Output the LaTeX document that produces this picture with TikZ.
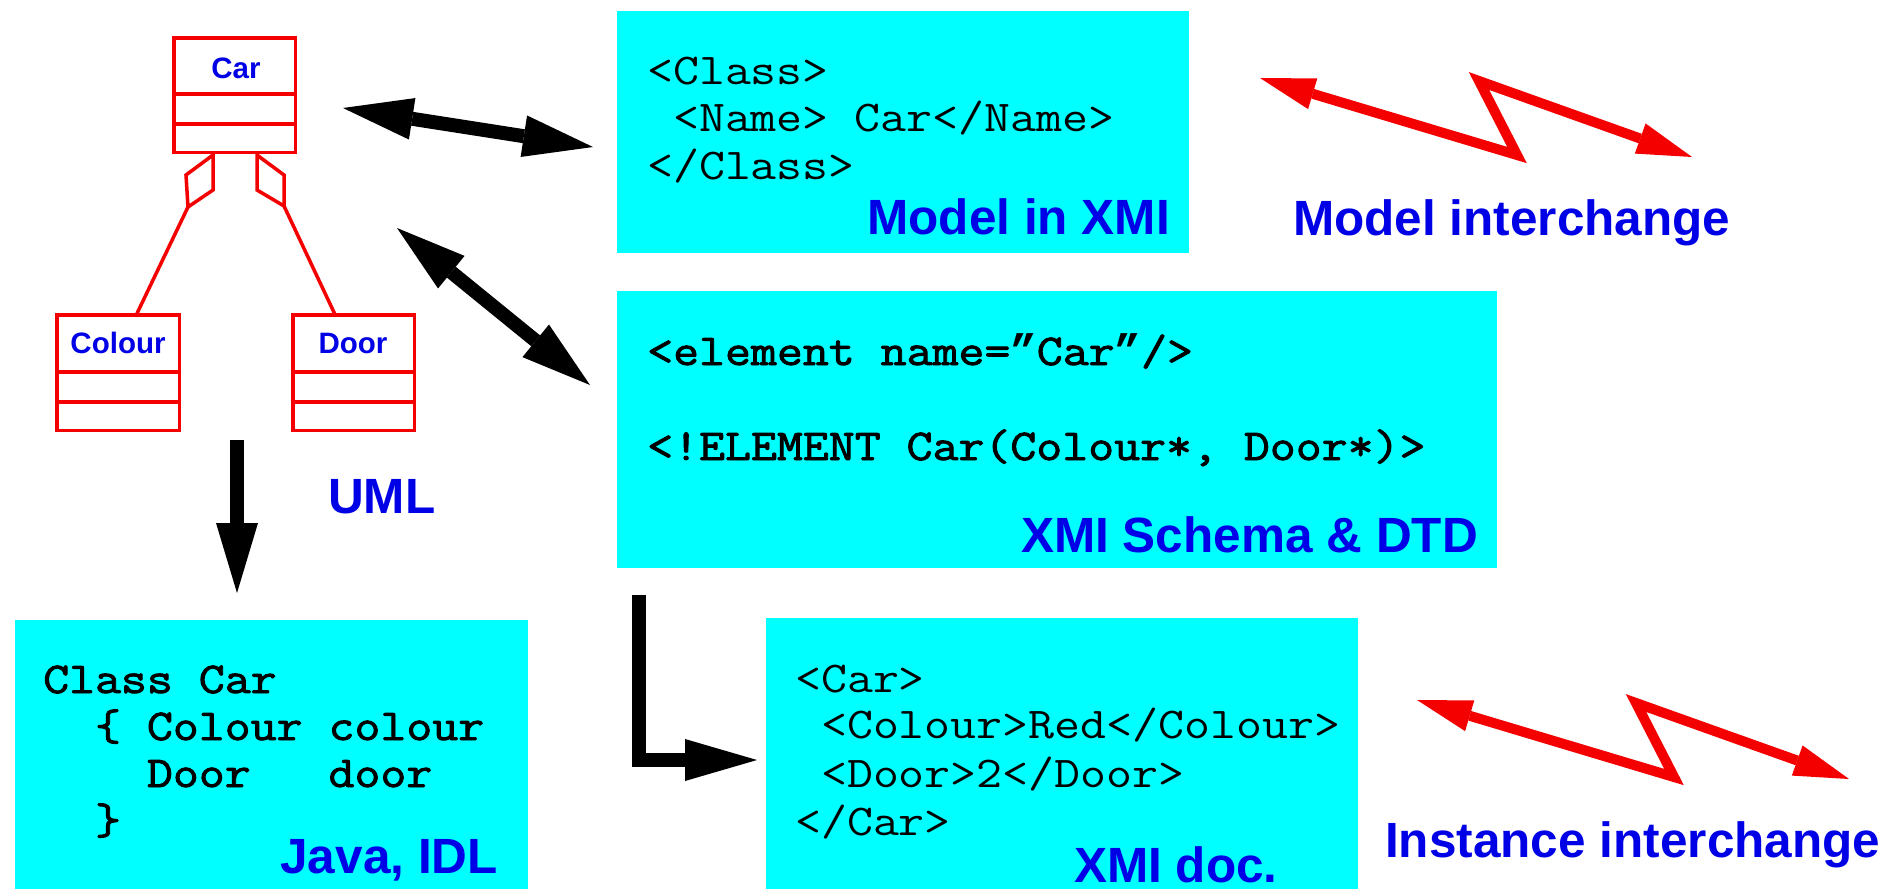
\documentclass[tikz,border=0pt]{standalone}
\usepackage{fontspec}
\setmainfont{Liberation Sans}
\newfontfamily\mono{Latin Modern Mono}[FakeStretch=1.145,WordSpace={1,0,0}]
\newfontfamily\monob{Latin Modern Mono}[FakeStretch=1.145,FakeBold=2,WordSpace={1,0,0}]
\newfontfamily\quotef{Liberation Mono}
\newcommand{\slquote}{{\quotef\bfseries ”}}
\usetikzlibrary{arrows.meta}
\definecolor{lblue}{RGB}{0,0,230}
\definecolor{xcyan}{RGB}{0,255,255}
\definecolor{ured}{RGB}{245,0,0}
\begin{document}
\begin{tikzpicture}[x=1pt,y=-1pt,
  cbox/.style={fill=xcyan,draw=none,inner sep=0pt,outer sep=0pt,anchor=north west},
  ubox/.style={draw=ured,line width=3.5pt,fill=white,inner sep=0pt,outer sep=0pt,anchor=north west},
  uline/.style={draw=ured,line width=3.5pt},
  code/.style={inner sep=0pt,anchor=base west,font=\mono\fontsize{44}{47}\selectfont},
  codeb/.style={code,font=\monob\fontsize{44}{47}\selectfont},
  lbl/.style={inner sep=0pt,text=lblue,font=\bfseries\fontsize{49.5}{55}\selectfont},
  ulbl/.style={inner sep=0pt,anchor=base,text=lblue,font=\bfseries\fontsize{29.5}{33}\selectfont},
  bigarrow/.style={line width=14pt,line cap=butt,line join=miter},
  zigarrow/.style={draw=ured,line width=10pt,line cap=butt,line join=miter,
    {Triangle[length=55pt,width=32pt,line width=0pt]}-{Triangle[length=55pt,width=32pt,line width=0pt]}}
]
\useasboundingbox (0,0) rectangle (1902,889);
\fill[white] (0,0) rectangle (1902,889);

% cyan boxes
\node[cbox,minimum width=572pt,minimum height=242pt] (model) at (617,11) {};
\node[cbox,minimum width=880pt,minimum height=277pt] (schema) at (617,291) {};
\node[cbox,minimum width=513pt,minimum height=269pt] (java) at (15,620) {};
\node[cbox,minimum width=592pt,minimum height=271pt] (doc) at (766,618) {};

% UML classes
\node[ubox,minimum width=121.5pt,minimum height=114.5pt] (car) at (174,38) {};
\node[ubox,minimum width=122.5pt,minimum height=115.5pt] (colour) at (57,315) {};
\node[ubox,minimum width=121.5pt,minimum height=115.5pt] (door) at (293,315) {};
\draw[uline] (car.west |- 0,94) -- (car.east |- 0,94);
\draw[uline] (car.west |- 0,124) -- (car.east |- 0,124);
\draw[uline] (colour.west |- 0,372) -- (colour.east |- 0,372);
\draw[uline] (colour.west |- 0,402) -- (colour.east |- 0,402);
\draw[uline] (door.west |- 0,372) -- (door.east |- 0,372);
\draw[uline] (door.west |- 0,402) -- (door.east |- 0,402);
\node[ulbl] (carl) at (236,78) {Car};
\node[ulbl] (colourl) at (118,353) {Colour};
\node[ulbl] (doorl) at (353,353) {Door};

% aggregation diamonds
\coordinate (lda) at (213,155);
\coordinate (ldb) at (213,190);
\coordinate (ldc) at (188,207);
\coordinate (ldd) at (186,175);
\coordinate (rda) at (257,155);
\coordinate (rdb) at (284,175);
\coordinate (rdc) at (284,206);
\coordinate (rdd) at (257,190);
\draw[uline,fill=white,line join=miter] (lda) -- (ldb) -- (ldc) -- (ldd) -- cycle;
\draw[uline,fill=white,line join=miter] (rda) -- (rdb) -- (rdc) -- (rdd) -- cycle;
\draw[uline] (ldc) -- ([xshift=18pt]colour.north);
\draw[uline] (rdc) -- ([xshift=-18.5pt]door.north);

% texts
\node[code] (m1) at (647,84) {<Class>};
\node[code] (m2) at (647,131) {\ <Name>\ Car</Name>};
\node[code] (m3) at (647,179) {</Class>};
\node[lbl,anchor=base east] (mlbl) at (1170,234) {Model in XMI};

\node[codeb] (s1) at (647,365) {<element name=\slquote Car\slquote/>};
\node[codeb] (s2) at (647,460) {<!ELEMENT Car(Colour*, Door*)>};
\node[lbl,anchor=base east] (slbl) at (1478,552) {XMI Schema \& DTD};

\node[codeb] (j1) at (43,693) {Class Car};
\node[codeb] (j2) at (43,740) {\ \ \{\ Colour\ colour};
\node[codeb] (j3) at (43,787) {\ \ \ \ Door\ \ \ door};
\node[codeb] (j4) at (43,834) {\ \ \}};
\node[lbl,anchor=base east] (jlbl) at (498,873) {Java, IDL};

\node[code] (d1) at (795,692) {<Car>};
\node[code] (d2) at (795,738) {\ <Colour>Red</Colour>};
\node[code] (d3) at (795,787) {\ <Door>2</Door>};
\node[code] (d4) at (795,835) {</Car>};
\node[lbl,anchor=base west] (dlbl) at (1074,882) {XMI doc.};

\node[lbl,anchor=base west] (uml) at (328,513) {UML};
\node[lbl,anchor=base west] (mi) at (1293,235) {Model interchange};
\node[lbl,anchor=base west] (ii) at (1385,857) {Instance interchange};

% black arrows
\coordinate (a1l) at (343,108);
\coordinate (a1r) at (593,147);
\coordinate (a2l) at (397,228);
\coordinate (a2r) at (590,385);
\coordinate (a3s) at (237,440);
\coordinate (a3e) at (237,593);
\coordinate (a4s) at (639,595);
\coordinate (a4e) at (757,760);
\draw[bigarrow,{Triangle[length=70pt,width=42pt,line width=0pt]}-{Triangle[length=70pt,width=42pt,line width=0pt]}] (a1l) -- (a1r);
\draw[bigarrow,{Triangle[length=70pt,width=42pt,line width=0pt]}-{Triangle[length=70pt,width=42pt,line width=0pt]}] (a2l) -- (a2r);
\draw[bigarrow,-{Triangle[length=70pt,width=42pt,line width=0pt]}] (a3s) -- (a3e);
\draw[bigarrow,-{Triangle[length=72pt,width=42pt,line width=0pt]}] (a4s) |- (a4e);

% red zigzag arrows
\coordinate (z1a) at (1260,78);
\coordinate (z1b) at (1517,155);
\coordinate (z1c) at (1479,81);
\coordinate (z1d) at (1692,157);
\coordinate (z2a) at (1417,700);
\coordinate (z2b) at (1674,777);
\coordinate (z2c) at (1636,703);
\coordinate (z2d) at (1849,779);
\draw[zigarrow] (z1a) -- (z1b) -- (z1c) -- (z1d);
\draw[zigarrow] (z2a) -- (z2b) -- (z2c) -- (z2d);
\end{tikzpicture}
\end{document}
